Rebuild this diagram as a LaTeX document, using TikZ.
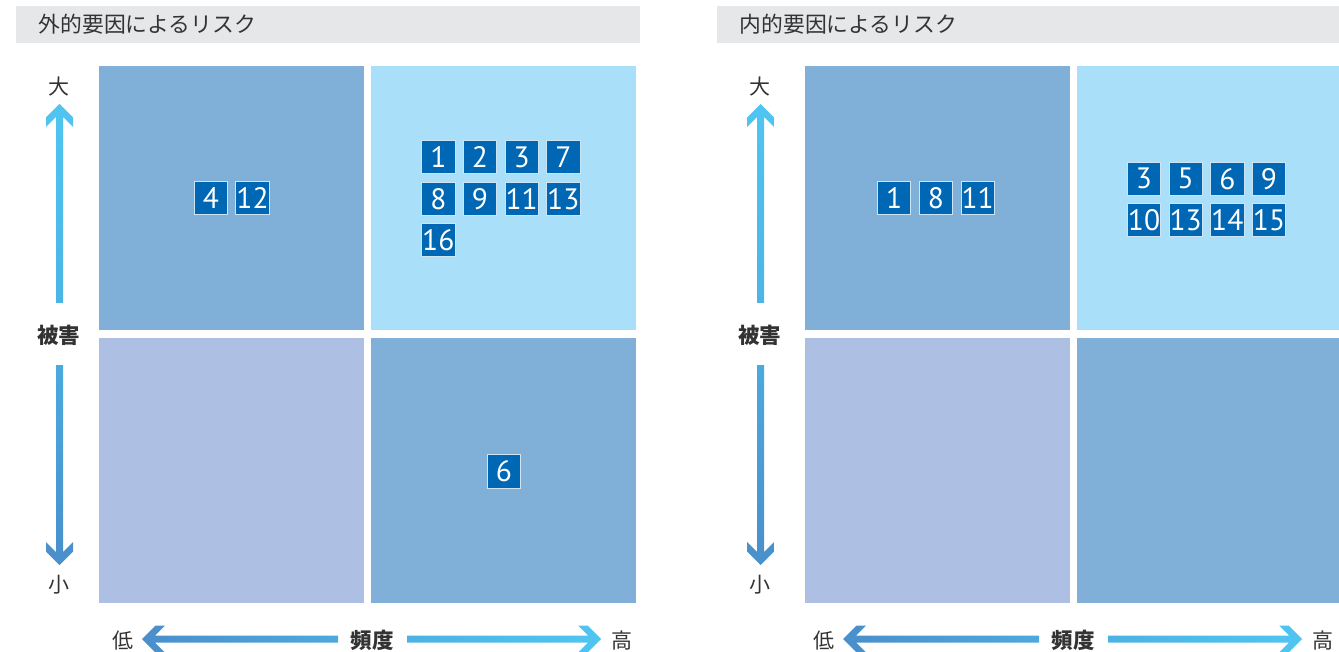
\documentclass[tikz,border=0pt]{standalone}
\usepackage{fontspec}
\setmainfont{Noto Sans CJK JP}
\newfontfamily\numfont{PT Sans}
\usepackage{tikz}
\usetikzlibrary{positioning,calc}
\definecolor{QuadMid}{RGB}{128,176,216}
\definecolor{QuadHi}{RGB}{170,223,249}
\definecolor{QuadLo}{RGB}{173,192,227}
\definecolor{BadgeBlue}{RGB}{0,103,180}
\definecolor{BadgeEdge}{RGB}{205,228,245}
\definecolor{HeadGray}{RGB}{230,231,233}
\definecolor{TxtGray}{RGB}{51,51,51}
\definecolor{AxHi}{RGB}{80,197,241}
\definecolor{AxUpEnd}{RGB}{76,181,230}
\definecolor{AxDnTop}{RGB}{75,170,221}
\definecolor{AxLo}{RGB}{74,143,203}
\definecolor{AxLeftEnd}{RGB}{77,169,220}
\definecolor{AxRightEnd}{RGB}{77,178,226}
\tikzset{
  quad/.style={minimum width=265pt,minimum height=264.5pt,inner sep=0pt},
  badge/.style={fill=BadgeBlue,draw=BadgeEdge,line width=0.9pt,minimum size=33.3pt,
                inner sep=0pt,text=white,font=\numfont\fontsize{29.5}{29.5}\selectfont},
  paneltitle/.style={anchor=west,inner sep=0pt,text=TxtGray,font=\fontsize{21.8}{22}\selectfont},
  axlbl/.style={inner sep=0pt,text=TxtGray,font=\fontsize{21}{22}\selectfont},
  axname/.style={inner sep=0pt,text=TxtGray,font=\bfseries\fontsize{21.5}{22}\selectfont},
}
\newcommand\varrow[5]{%
  \shade[top color=#4,bottom color=#5] (#1) -- ++(13.5,{#2*13.5}) -- ++(0,{#2*9.5})
    -- ++(-10,{#2*-10}) -- ++(0,{#2*(#3-13)}) -- ++(-7,0) -- ++(0,{#2*(13-#3)})
    -- ++(-10,{#2*10}) -- ++(0,{#2*-9.5}) -- cycle;}
\newcommand\harrow[5]{%
  \shade[left color=#4,right color=#5] (#1) -- ++({#2*13.5},-13.5) -- ++({#2*9.5},0)
    -- ++({#2*-10},10) -- ++({#2*(#3-13)},0) -- ++(0,7) -- ++({#2*(13-#3)},0)
    -- ++({#2*10},10) -- ++({#2*-9.5},0) -- cycle;}

\begin{document}
\begin{tikzpicture}[x=1pt,y=-1pt]
  \useasboundingbox (0,0) rectangle (1339,652);
  \foreach \px/\qx/\ttl/\p in {0/0/外的要因によるリスク/L,701/705.5/内的要因によるリスク/R}{
    \fill[HeadGray] (\px+16,6) rectangle (\px+640,43.5);
    \node[paneltitle] (\p-title) at (\px+38.5,24.5) {\ttl};
    \node[quad,fill=QuadMid] (\p-tl) at (\qx+231.5,198) {};
    \node[quad,fill=QuadHi]  (\p-tr) at (\qx+503.5,198) {};
    \node[quad,fill=QuadLo]  (\p-bl) at (\qx+231.5,470.5) {};
    \node[quad,fill=QuadMid] (\p-br) at (\qx+503.5,470.5) {};
    \node[axlbl]  (\p-big)   at (\px+59,87)    {大};
    \node[axname] (\p-dmg)   at (\px+58.5,335) {被害};
    \node[axlbl]  (\p-small) at (\px+59,585)   {小};
    \node[axlbl]  (\p-low)   at (\px+123,641)  {低};
    \node[axname] (\p-freq)  at (\px+372,640)  {頻度};
    \node[axlbl]  (\p-high)  at (\px+622,641)  {高};
    \coordinate (\p-uptip) at (\px+59.5,104);
    \coordinate (\p-dntip) at (\px+59.5,565);
    \coordinate (\p-lftip) at (\px+142,639);
    \coordinate (\p-rttip) at (\px+601,639);
    \varrow{\p-uptip}{1}{199}{AxHi}{AxUpEnd}
    \varrow{\p-dntip}{-1}{200}{AxDnTop}{AxLo}
    \harrow{\p-lftip}{1}{196}{AxLo}{AxLeftEnd}
    \harrow{\p-rttip}{-1}{194}{AxRightEnd}{AxHi}
  }
  \foreach \n/\x/\y in {4/211/198.3,12/252.5/198.3,
      1/438.3/157,2/480/157,3/521.7/157,7/563.3/157,
      8/438.3/198.7,9/480/198.7,11/521.7/198.7,13/563.3/198.7,
      16/438.3/240.3,6/504/471.5}
    \node[badge] (L-b\n) at (\x,\y) {\n};
  \foreach \n/\x/\y in {1/894.2/198.3,8/935.8/198.3,11/977.7/198.3,
      3/1144/178.7,5/1185.7/178.7,6/1227.3/178.7,9/1269/178.7,
      10/1144/220.3,13/1185.7/220.3,14/1227.3/220.3,15/1269/220.3}
    \node[badge] (R-b\n) at (\x,\y) {\n};
\end{tikzpicture}
\end{document}
